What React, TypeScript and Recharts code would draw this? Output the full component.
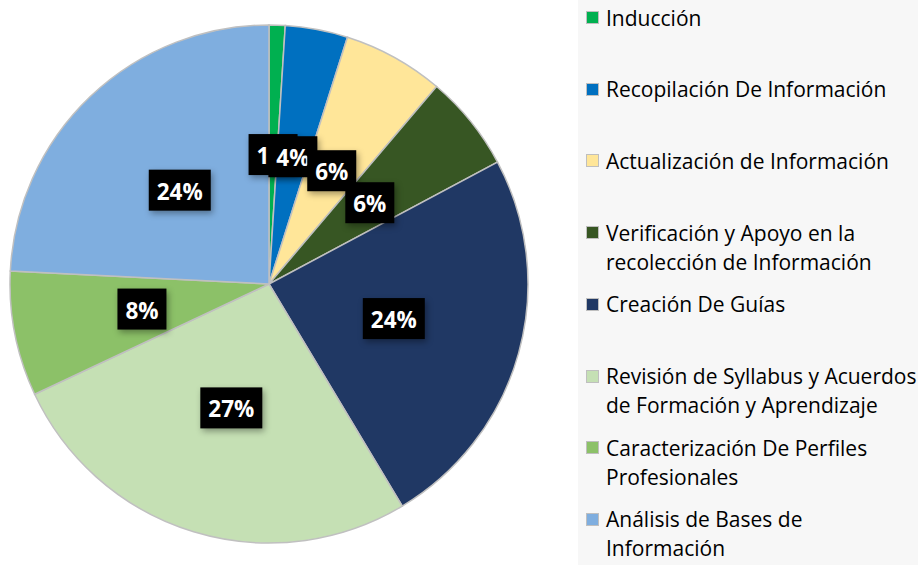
import React from 'react';
import { PieChart, Pie, Cell, Legend } from 'recharts';

const categories = [
  'Inducción',
  'Recopilación De Información',
  'Actualización de Información',
  'Verificación y Apoyo en la recolección de Información',
  'Creación De Guías',
  'Revisión de Syllabus y Acuerdos de Formación y Aprendizaje',
  'Caracterización De Perfiles Profesionales',
  'Análisis de Bases de Información',
];
const legendLabels = [
  'Inducción',
  'Recopilación De Información',
  'Actualización de Información',
  'Verificación y Apoyo en la\nrecolección de Información',
  'Creación De Guías',
  'Revisión de Syllabus y Acuerdos\nde Formación y Aprendizaje',
  'Caracterización De Perfiles\nProfesionales',
  'Análisis de Bases de\nInformación',
];
const values = [1.0, 3.9, 6.3, 6.0, 24.2, 26.6, 7.8, 24.2];
const colors = ['#00B050', '#0070C0', '#FFE699', '#375623', '#203864', '#C5E0B4', '#8CC168', '#7FAEDF'];

const data = categories.map((name, i) => ({ name, value: values[i] }));

const RADIAN = Math.PI / 180;

const renderLabel = (props: any) => {
  const { cx, cy, midAngle, outerRadius, percent } = props;
  const r = outerRadius * 0.5;
  const x = cx + r * Math.cos(-midAngle * RADIAN);
  const y = cy + r * Math.sin(-midAngle * RADIAN);
  const text = `${Math.round(percent * 100)}%`;
  const w = text.length >= 3 ? 62 : 49;
  const h = 41;
  return (
    <g>
      <rect
        x={x - w / 2}
        y={y - h / 2}
        width={w}
        height={h}
        fill="#000"
        style={{ filter: 'drop-shadow(2px 3px 3px rgba(0,0,0,0.35))' }}
      />
      <text
        x={x}
        y={y + 1}
        fill="#fff"
        textAnchor="middle"
        dominantBaseline="central"
        style={{ fontFamily: 'Open Sans', fontWeight: 700, fontSize: 22.5 }}
      >
        {text}
      </text>
    </g>
  );
};

const renderLegend = () => (
  <div style={{ position: 'relative', width: 340, height: 565, background: '#F7F7F7' }}>
    {legendLabels.map((label, i) => (
      <div
        key={i}
        style={{
          position: 'absolute',
          left: 0,
          top: 3.5 + i * 71.7,
          width: 340,
          fontFamily: 'Open Sans',
          fontSize: 21,
          lineHeight: '29px',
          color: '#000',
        }}
      >
        <div
          style={{
            position: 'absolute',
            left: 8,
            top: 7.5,
            width: 11,
            height: 11,
            background: colors[i],
            border: '1.5px solid #BFBFBF',
          }}
        />
        <div style={{ position: 'absolute', left: 28, top: 0, whiteSpace: 'pre' }}>{label}</div>
      </div>
    ))}
  </div>
);

export default function App() {
  return (
    <div style={{ position: 'absolute', left: 0, top: 0, width: 918, height: 565, background: '#fff' }}>
      <style>{`.recharts-pie-sectors { filter: drop-shadow(0 0 4px rgba(0,0,0,0.25)); }`}</style>
      <PieChart width={918} height={565} margin={{ top: 0, right: 0, bottom: 0, left: 0 }}>
        <Pie
          data={data}
          dataKey="value"
          nameKey="name"
          cx={269}
          cy={284}
          outerRadius={259}
          startAngle={90}
          endAngle={-270}
          stroke="#C0C0C0"
          strokeWidth={1.5}
          label={renderLabel}
          labelLine={false}
          isAnimationActive={false}
        >
          {data.map((d, i) => (
            <Cell key={d.name} fill={colors[i]} />
          ))}
        </Pie>
        <Legend
          content={renderLegend}
          wrapperStyle={{ position: 'absolute', left: 578, top: 0, width: 340, height: 565 }}
        />
      </PieChart>
    </div>
  );
}
